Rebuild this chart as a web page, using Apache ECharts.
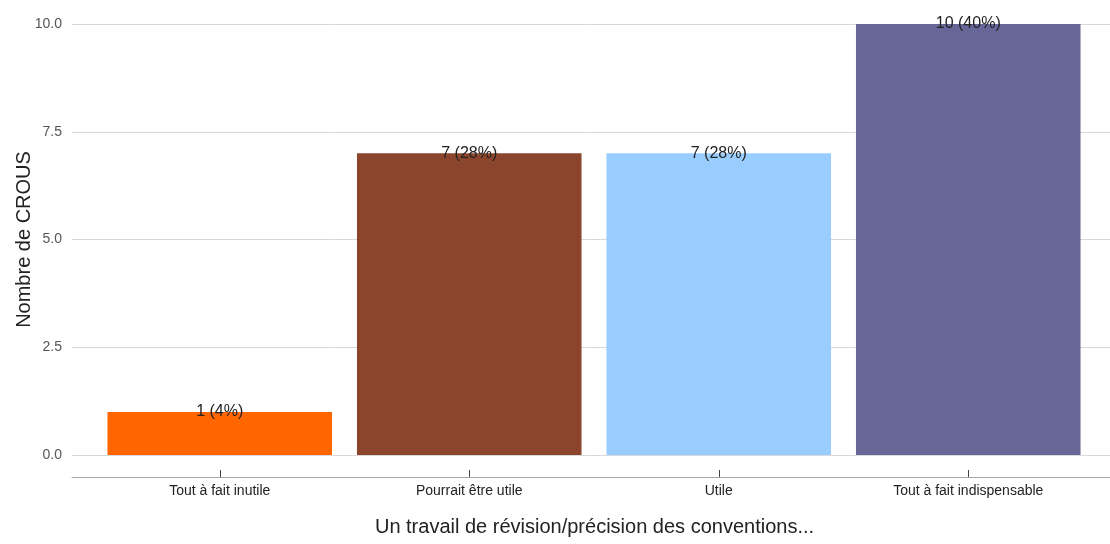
<!DOCTYPE html>
<html>
<head>
<meta charset="utf-8">
<script src="https://cdn.jsdelivr.net/npm/echarts@6/dist/echarts.min.js"></script>
<style>html,body{margin:0;padding:0;background:#fff;}#c{width:1110px;height:544px;}</style>
</head>
<body>
<div id="c"></div>
<script>
const categories = ["Tout à fait inutile", "Pourrait être utile", "Utile", "Tout à fait indispensable"];
const values = [1, 7, 7, 10];
const colors = ["#FF6600", "#8B452D", "#99CCFF", "#666699"];
const yTicks = [0, 2.5, 5, 7.5, 10];

const total = values.reduce((a, b) => a + b, 0);
const font = "Liberation Sans, Arial, sans-serif";
const chart = echarts.init(document.getElementById('c'), null, {renderer: 'canvas'});
chart.setOption({
  animation: false,
  backgroundColor: '#fff',
  grid: [
    {left: 72, top: 24, width: 1045, height: 431, outerBoundsMode: 'none', containLabel: false},
    {left: 95, top: 24, width: 998, height: 431, outerBoundsMode: 'none', containLabel: false}
  ],
  xAxis: [
    {gridIndex: 0, type: 'value', min: 0, max: 1, offset: 22,
     axisLine: {show: true, onZero: false, lineStyle: {color: '#a6a6a6', width: 1}},
     axisTick: {show: false}, axisLabel: {show: false}, splitLine: {show: false},
     name: 'Un travail de révision/précision des conventions...', nameLocation: 'middle', nameGap: 40,
     nameMoveOverlap: false,
     nameTextStyle: {fontFamily: font, fontSize: 20, color: '#222'}},
    {gridIndex: 1, type: 'category', data: categories, offset: 22,
     axisLine: {show: true, onZero: false, lineStyle: {color: '#a6a6a6', width: 1}},
     axisTick: {show: true, alignWithLabel: true, inside: true, length: 7, lineStyle: {color: '#444'}},
     axisLabel: {fontFamily: font, fontSize: 14, color: '#222', margin: 7}}
  ],
  yAxis: [
    {gridIndex: 0, type: 'value', min: yTicks[0], max: yTicks[yTicks.length - 1], interval: 2.5,
     axisLine: {show: false}, axisTick: {show: false},
     axisLabel: {fontFamily: font, fontSize: 14, color: '#555', margin: 10,
       formatter: v => v.toFixed(1)},
     splitLine: {show: true, lineStyle: {color: '#d9d9d9', width: 1}},
     name: 'Nombre de CROUS', nameLocation: 'middle', nameGap: 38,
     nameMoveOverlap: false,
     nameTextStyle: {fontFamily: font, fontSize: 20, color: '#222'}},
    {gridIndex: 1, type: 'value', min: yTicks[0], max: yTicks[yTicks.length - 1], interval: 2.5, show: false}
  ],
  series: [{
    type: 'bar', xAxisIndex: 1, yAxisIndex: 1,
    barCategoryGap: '10%',
    data: values.map((v, i) => ({value: v, itemStyle: {color: colors[i]}})),
    label: {show: true, position: 'top', distance: -8,
      fontFamily: font, fontSize: 16, color: '#222',
      formatter: p => p.value + ' (' + Math.round(p.value / total * 100) + '%)'}
  }]
});
</script>
</body>
</html>
